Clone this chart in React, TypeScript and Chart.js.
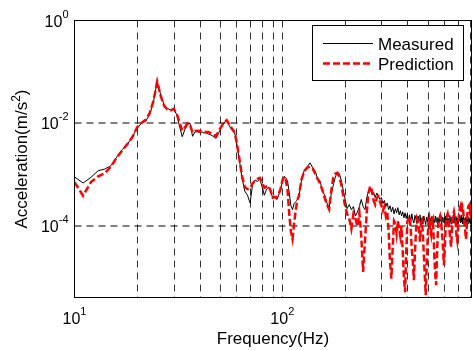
import React, { useEffect, useRef } from "react";
import { Chart, registerables } from "chart.js";

Chart.register(...registerables);

// Frequency (Hz)
const FREQ = [
  10, 11, 12, 13, 14, 15, 16, 17, 18, 19,
  20, 21, 22, 23, 24, 25, 26, 27, 28, 29,
  30, 31, 32, 33, 34, 35, 36, 37, 38, 39,
  40, 41, 42, 43, 44, 45, 46, 47, 48, 49,
  50, 51, 52, 53, 54, 55, 56, 57, 58, 59, 60,
  62, 64, 66, 68, 70, 72, 74, 76, 78, 80,
  82, 84, 86, 88, 90, 92, 94, 96, 98, 100,
  102, 104, 106, 108, 110, 112, 114, 116, 118, 120,
  124, 128, 132, 136, 140, 144, 148, 152, 156, 160,
  164, 168, 172, 176, 180, 184, 188, 192, 196, 200,
  205, 210, 215, 220, 225, 230, 235, 240, 245, 250,
  255, 260, 265, 270, 275, 280, 285, 290, 295, 300,
  305, 310, 315, 320, 325, 330, 335, 340, 345, 350,
  355, 360, 365, 370, 375, 380, 385, 390, 395, 400,
  405, 410, 415, 420, 425, 430, 435, 440, 445, 450,
  455, 460, 465, 470, 475, 480, 485, 490, 495, 500,
  505, 510, 515, 520, 525, 530, 535, 540, 545, 550,
  555, 560, 565, 570, 575, 580, 585, 590, 595, 600,
  605, 610, 615, 620, 625, 630, 635, 640, 645, 650,
  655, 660, 665, 670, 675, 680, 685, 690, 695, 700,
  705, 710, 715, 720, 725, 730, 735, 740, 745, 750,
  755, 760, 765, 770, 775, 780, 785, 790, 795, 800, 805, 810,
];

// Measured acceleration (m/s^2)
const MEASURED = [
  9.1e-4, 6.9e-4, 8.9e-4, 1.2e-3, 1.29e-3, 1.51e-3, 2.24e-3, 3.1e-3, 3.98e-3, 5.4e-3,
  8.1e-3, 1.0e-2, 1.1e-2, 1.48e-2, 2.63e-2, 6.6e-2, 3.55e-2, 2.29e-2, 1.95e-2, 1.82e-2,
  1.86e-2, 1.51e-2, 8.9e-3, 5.5e-3, 7.6e-3, 9.5e-3, 1.0e-2, 5.6e-3, 6.8e-3, 6.9e-3,
  6.6e-3, 6.8e-3, 6.5e-3, 6.5e-3, 6.2e-3, 6.0e-3, 5.75e-3, 5.4e-3, 5.1e-3, 6.0e-3,
  7.2e-3, 8.5e-3, 9.8e-3, 1.07e-2, 1.12e-2, 9.8e-3, 8.5e-3, 7.6e-3, 6.9e-3, 6.5e-3, 4.7e-3,
  2.1e-3, 8.7e-4, 4.8e-4, 4.0e-4, 2.82e-4, 6.6e-4, 7.9e-4, 7.4e-4, 8.3e-4, 5.75e-4,
  4.0e-4, 5.25e-4, 5.75e-4, 4.8e-4, 3.47e-4, 3.7e-4, 3.3e-4, 4.0e-4, 5.0e-4, 7.1e-4,
  9.3e-4, 8.7e-4, 7.6e-4, 4.5e-4, 2.5e-4, 2.1e-4, 2.75e-4, 3.0e-4, 3.2e-4, 3.6e-4,
  8.3e-4, 1.26e-3, 1.45e-3, 1.7e-3, 1.38e-3, 1.17e-3, 8.3e-4, 7.6e-4, 4.8e-4, 4.0e-4,
  2.82e-4, 2.29e-4, 4.2e-4, 6.3e-4, 8.9e-4, 1.15e-3, 1.05e-3, 7.9e-4, 5.25e-4, 3.55e-4,
  2.19e-4, 2.63e-4, 2.1e-4, 2.4e-4, 1.58e-4, 1.9e-4, 2.4e-4, 3.3e-4, 2.4e-4, 2.1e-4,
  3.55e-4, 4.8e-4, 5.25e-4, 4.2e-4, 4.6e-4, 3.6e-4, 4.4e-4, 3.8e-4, 3.3e-4, 3.6e-4,
  2.75e-4, 3.16e-4, 2.4e-4, 2.82e-4, 2.1e-4, 2.5e-4, 1.9e-4, 2.34e-4, 1.74e-4, 2.19e-4,
  1.82e-4, 2.29e-4, 1.66e-4, 2.0e-4, 1.58e-4, 1.9e-4, 1.45e-4, 1.82e-4, 1.41e-4, 1.74e-4,
  1.26e-4, 1.66e-4, 1.2e-4, 1.74e-4, 1.32e-4, 1.15e-4, 1.62e-4, 1.38e-4, 1.12e-4, 1.58e-4,
  1.26e-4, 1.66e-4, 1.15e-4, 1.45e-4, 1.1e-4, 1.58e-4, 1.29e-4, 1.07e-4, 1.51e-4, 1.2e-4,
  1.62e-4, 1.12e-4, 1.45e-4, 1.17e-4, 1.55e-4, 1.1e-4, 1.38e-4, 1.15e-4, 1.58e-4, 1.2e-4,
  1.48e-4, 1.07e-4, 1.41e-4, 1.17e-4, 1.62e-4, 1.26e-4, 1.1e-4, 1.51e-4, 1.2e-4, 1.45e-4,
  1.12e-4, 1.58e-4, 1.23e-4, 1.48e-4, 1.07e-4, 1.41e-4, 1.17e-4, 1.62e-4, 1.26e-4, 1.1e-4,
  1.51e-4, 1.23e-4, 1.66e-4, 1.15e-4, 1.45e-4, 1.12e-4, 1.55e-4, 1.2e-4, 1.41e-4, 1.1e-4,
  1.58e-4, 1.26e-4, 1.48e-4, 1.15e-4, 1.62e-4, 1.2e-4, 1.45e-4, 1.1e-4, 1.55e-4, 1.23e-4,
  1.41e-4, 1.07e-4, 1.51e-4, 1.17e-4, 1.58e-4, 1.26e-4, 1.12e-4, 1.48e-4, 1.2e-4, 1.38e-4, 1.1e-4, 1.32e-4,
];

// Predicted acceleration (m/s^2)
const PREDICTION = [
  7.2e-4, 3.9e-4, 7.2e-4, 9.3e-4, 1.07e-3, 1.45e-3, 2.19e-3, 3.0e-3, 3.98e-3, 5.4e-3,
  8.3e-3, 1.02e-2, 1.17e-2, 1.58e-2, 2.75e-2, 6.5e-2, 3.4e-2, 2.19e-2, 1.86e-2, 1.78e-2,
  1.91e-2, 1.58e-2, 1.05e-2, 7.2e-3, 8.3e-3, 1.0e-2, 9.3e-3, 6.6e-3, 7.1e-3, 7.2e-3,
  7.1e-3, 6.9e-3, 6.9e-3, 6.8e-3, 6.8e-3, 6.5e-3, 6.2e-3, 5.9e-3, 5.6e-3, 6.6e-3,
  7.6e-3, 8.7e-3, 1.0e-2, 1.07e-2, 1.15e-2, 1.02e-2, 8.9e-3, 8.1e-3, 7.4e-3, 6.6e-3, 4.8e-3,
  2.19e-3, 9.5e-4, 5.75e-4, 5.25e-4, 5.5e-4, 6.8e-4, 7.6e-4, 8.3e-4, 8.7e-4, 7.1e-4,
  5.6e-4, 5.9e-4, 6.0e-4, 4.8e-4, 3.6e-4, 3.7e-4, 3.55e-4, 4.2e-4, 5.25e-4, 7.6e-4,
  9.1e-4, 7.9e-4, 5.0e-4, 1.78e-4, 7.9e-5, 5.6e-5, 1.12e-4, 2.0e-4, 3.16e-4, 3.8e-4,
  8.3e-4, 1.2e-3, 1.38e-3, 1.45e-3, 1.32e-3, 1.05e-3, 8.3e-4, 6.8e-4, 5.0e-4, 3.55e-4,
  2.63e-4, 2.14e-4, 4.8e-4, 8.9e-4, 1.05e-3, 1.07e-3, 9.3e-4, 6.6e-4, 4.2e-4, 2.63e-4,
  1.74e-4, 1.41e-4, 8.9e-5, 1.74e-4, 1.38e-4, 1.0e-4, 1.82e-4, 6.3e-5, 1.29e-5, 5.0e-5,
  1.9e-4, 4.4e-4, 6.0e-4, 5.0e-4, 3.16e-4, 2.63e-4, 3.55e-4, 3.8e-4, 3.0e-4, 2.5e-4,
  2.0e-4, 2.4e-4, 1.58e-4, 1.9e-4, 7.9e-5, 2.0e-5, 9.5e-6, 4.0e-5, 1.26e-4, 1.12e-4,
  7.1e-5, 1.26e-4, 8.9e-5, 6.3e-5, 1.0e-4, 3.16e-5, 1.0e-5, 5.2e-6, 3.16e-5, 1.26e-4,
  1.32e-4, 1.51e-4, 8.9e-5, 3.55e-5, 2.0e-5, 8.9e-6, 3.16e-5, 7.9e-5, 1.38e-4, 1.2e-4,
  8.9e-5, 5.0e-5, 1.12e-4, 1.26e-4, 7.1e-5, 2.82e-5, 1.12e-5, 4.6e-6, 1.58e-5, 5.0e-5,
  1.12e-4, 1.38e-4, 8.9e-5, 7.1e-5, 1.26e-4, 1.38e-4, 6.3e-5, 2.24e-5, 1.12e-5, 7.1e-6,
  2.5e-5, 7.1e-5, 1.2e-4, 1.41e-4, 1.58e-4, 1.32e-4, 8.9e-5, 5.6e-5, 3.16e-5, 1.74e-5,
  3.55e-5, 7.9e-5, 1.38e-4, 1.58e-4, 1.74e-4, 1.45e-4, 1.0e-4, 7.1e-5, 5.0e-5, 4.0e-5,
  7.9e-5, 1.32e-4, 1.66e-4, 1.9e-4, 1.58e-4, 1.41e-4, 1.0e-4, 6.3e-5, 5.25e-5, 7.9e-5,
  1.38e-4, 1.74e-4, 2.19e-4, 2.4e-4, 1.9e-4, 2.1e-4, 2.5e-4, 2.29e-4, 1.66e-4, 1.26e-4,
  1.0e-4, 7.9e-5, 5.6e-5, 7.1e-5, 1.41e-4, 2.0e-4, 2.4e-4, 2.5e-4, 2.0e-4, 1.82e-4, 2.29e-4, 2.1e-4,
];

const X_MIN = 10;
const X_MAX = 814;
const Y_MIN = 4.1e-6;
const Y_MAX = 1;

const X_GRID = [20, 30, 40, 50, 60, 70, 80, 90, 100, 200, 300, 400, 500, 600, 700, 800];
const Y_GRID = [1e-2, 1e-4];
const X_TICKS = [10, 100];
const X_TICK_EXP = ["1", "2"];
const Y_TICKS = [1, 1e-2, 1e-4];
const Y_TICK_EXP = ["0", "-2", "-4"];

const X_TITLE = "Frequency(Hz)";
const Y_TITLE_MAIN = "Acceleration(m/s";
const Y_TITLE_SUP = "2";
const Y_TITLE_END = ")";

const FAMILY = '"Liberation Sans", Arial, Helvetica, sans-serif';
const TICK_FONT = `16px ${FAMILY}`;
const SUP_FONT = `11px ${FAMILY}`;
const TITLE_FONT = `17px ${FAMILY}`;
const TITLE_SUP_FONT = `12px ${FAMILY}`;
const LEGEND_FONT = `17px ${FAMILY}`;

function drawPow(ctx: CanvasRenderingContext2D, exp: string, x: number, base: number, align: "center" | "right") {
  ctx.font = TICK_FONT;
  const w1 = ctx.measureText("10").width;
  ctx.font = SUP_FONT;
  const w2 = ctx.measureText(exp).width;
  const total = w1 + w2;
  const start = align === "center" ? x - total / 2 : x - total;
  ctx.textAlign = "left";
  ctx.textBaseline = "alphabetic";
  ctx.fillStyle = "#000";
  ctx.font = TICK_FONT;
  ctx.fillText("10", start, base);
  ctx.font = SUP_FONT;
  ctx.fillText(exp, start + w1, base - 9);
}

const decorPlugin = {
  id: "decor",
  beforeDraw(chart: any) {
    const ctx = chart.ctx as CanvasRenderingContext2D;
    ctx.save();
    ctx.fillStyle = "#fff";
    ctx.fillRect(0, 0, chart.width, chart.height);
    ctx.restore();
  },
  beforeDatasetsDraw(chart: any) {
    const ctx = chart.ctx as CanvasRenderingContext2D;
    const a = chart.chartArea;
    const xs = chart.scales.x;
    const ys = chart.scales.y;
    ctx.save();
    ctx.lineWidth = 1;
    ctx.setLineDash([7, 5]);
    ctx.strokeStyle = "#333";
    for (const g of X_GRID) {
      const px = Math.round(xs.getPixelForValue(g)) + 0.5;
      ctx.beginPath();
      ctx.moveTo(px, a.top);
      ctx.lineTo(px, a.bottom);
      ctx.stroke();
    }
    ctx.strokeStyle = "#000";
    for (const g of Y_GRID) {
      const py = Math.round(ys.getPixelForValue(g));
      ctx.beginPath();
      ctx.moveTo(a.left, py);
      ctx.lineTo(a.right, py);
      ctx.stroke();
    }
    ctx.restore();
  },
  afterDraw(chart: any) {
    const ctx = chart.ctx as CanvasRenderingContext2D;
    const a = chart.chartArea;
    const xs = chart.scales.x;
    const ys = chart.scales.y;
    ctx.save();
    ctx.setLineDash([]);
    ctx.lineWidth = 1;
    ctx.strokeStyle = "#000";
    ctx.strokeRect(a.left, a.top, a.right - a.left, a.bottom - a.top);

    X_TICKS.forEach((t, i) => {
      drawPow(ctx, X_TICK_EXP[i], xs.getPixelForValue(t), a.bottom + 26, "center");
    });
    Y_TICKS.forEach((t, i) => {
      drawPow(ctx, Y_TICK_EXP[i], a.left - 6, ys.getPixelForValue(t) + 6, "right");
    });

    ctx.font = TITLE_FONT;
    ctx.textAlign = "center";
    ctx.textBaseline = "alphabetic";
    ctx.fillText(X_TITLE, (a.left + a.right) / 2, a.bottom + 46);

    ctx.font = TITLE_FONT;
    const w1 = ctx.measureText(Y_TITLE_MAIN).width;
    const w3 = ctx.measureText(Y_TITLE_END).width;
    ctx.font = TITLE_SUP_FONT;
    const w2 = ctx.measureText(Y_TITLE_SUP).width;
    const total = w1 + w2 + w3;
    ctx.translate(27, (a.top + a.bottom) / 2);
    ctx.rotate(-Math.PI / 2);
    ctx.textAlign = "left";
    ctx.font = TITLE_FONT;
    ctx.fillText(Y_TITLE_MAIN, -total / 2, 0);
    ctx.font = TITLE_SUP_FONT;
    ctx.fillText(Y_TITLE_SUP, -total / 2 + w1, -7);
    ctx.font = TITLE_FONT;
    ctx.fillText(Y_TITLE_END, -total / 2 + w1 + w2, 0);
    ctx.setTransform(1, 0, 0, 1, 0, 0);

    const lx = 312.5, ly = 25.5, lw = 151, lh = 55;
    ctx.fillStyle = "#fff";
    ctx.fillRect(lx, ly, lw, lh);
    ctx.strokeStyle = "#000";
    ctx.lineWidth = 1;
    ctx.strokeRect(lx, ly, lw, lh);
    const ds = chart.data.datasets;
    const rows = [ds[1], ds[0]];
    const rowY = [43.5, 63.5];
    rows.forEach((d: any, i: number) => {
      ctx.save();
      ctx.strokeStyle = d.borderColor;
      ctx.lineWidth = d.borderWidth;
      ctx.setLineDash(d.borderDash || []);
      ctx.beginPath();
      ctx.moveTo(323, rowY[i]);
      ctx.lineTo(373, rowY[i]);
      ctx.stroke();
      ctx.restore();
      ctx.fillStyle = "#000";
      ctx.font = LEGEND_FONT;
      ctx.textAlign = "left";
      ctx.textBaseline = "alphabetic";
      ctx.fillText(d.label, 378, rowY[i] + 6);
    });
    ctx.restore();
  },
};

export default function App() {
  const ref = useRef<HTMLCanvasElement>(null);
  useEffect(() => {
    const canvas = ref.current;
    if (!canvas) return;
    const chart = new Chart(canvas, {
      type: "line",
      data: {
        datasets: [
          {
            label: "Prediction",
            data: FREQ.map((f, i) => ({ x: f, y: PREDICTION[i] })),
            borderColor: "#ff0000",
            borderWidth: 2.5,
            borderDash: [7, 3],
            pointRadius: 0,
            tension: 0,
            fill: false,
            order: 1,
          },
          {
            label: "Measured",
            data: FREQ.map((f, i) => ({ x: f, y: MEASURED[i] })),
            borderColor: "#000000",
            borderWidth: 1,
            pointRadius: 0,
            tension: 0,
            fill: false,
            order: 2,
          },
        ],
      },
      options: {
        responsive: false,
        animation: false,
        devicePixelRatio: 1,
        layout: { padding: { left: 74.5, top: 20.5, right: 1.5, bottom: 52.5 } },
        plugins: { legend: { display: false }, tooltip: { enabled: false } },
        scales: {
          x: { type: "logarithmic", min: X_MIN, max: X_MAX, display: false },
          y: { type: "logarithmic", min: Y_MIN, max: Y_MAX, display: false },
        },
      },
      plugins: [decorPlugin],
    } as any);
    return () => chart.destroy();
  }, []);
  return (
    <div style={{ position: "fixed", left: 0, top: 0, width: 473, height: 350, background: "#fff" }}>
      <canvas ref={ref} width={473} height={350} style={{ display: "block", width: 473, height: 350 }} />
    </div>
  );
}
